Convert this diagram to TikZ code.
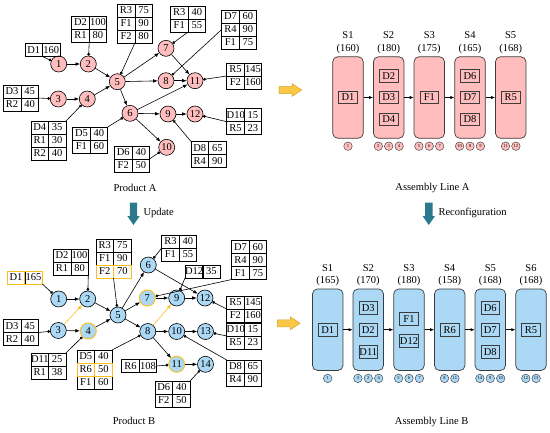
\documentclass[tikz,border=0pt]{standalone}
\usepackage{fontspec}
\setmainfont{Liberation Serif}
\usetikzlibrary{arrows.meta,fit,calc}
\definecolor{pinkF}{RGB}{255,189,189}
\definecolor{blueF}{RGB}{170,216,245}
\definecolor{yel}{RGB}{250,190,30}
\definecolor{yelF}{RGB}{250,200,70}
\definecolor{yelD}{RGB}{215,160,40}
\definecolor{tealA}{RGB}{42,121,141}
\definecolor{edgeG}{RGB}{60,60,60}
\newcommand{\fs}{\fontsize{10.5}{12}\selectfont}
\newcommand{\mytab}[5]{%
  \foreach \a/\b [count=\i] in {#5} {%
    \node[cell] (#1-\i-1) at ({#2},{#3+(\i-1)*13}) {\a};
    \node[cell] (#1-\i-2) at ({#2+17.5},{#3+(\i-1)*13}) {\b};
  }%
  \node[fitbox, fit=(#1-1-1)(#1-#4-2)] (#1) {};%
}
\newcommand{\hlrow}[2]{\draw[yel,line width=0.9pt] (#1-#2-1.north west) rectangle (#1-#2-2.south east) (#1-#2-1.north east) -- (#1-#2-1.south east);}
\newcommand{\station}[8]{%
  \node[st, fill=#2] (#1) at (#3,#4) {};
  \node[stlab] (#1-s) at ($(#1.north)+(0,-21)$) {#5};
  \node[stlab] (#1-v) at ($(#1.north)+(0,-7.5)$) {(#6)};
  \foreach \c [count=\k] in {#8} {%
    \node[sc, fill=#2] (#1-c\k) at ($(#1.south)+({(\k-(#7+1)/2)*10.4},7.6)$) {\c};
  }%
}
\begin{document}
\begin{tikzpicture}[x=1pt,y=-1pt,font=\fs,
  cell/.style={draw,line width=0.6pt,anchor=north west,minimum width=17.5pt,minimum height=13pt,inner sep=0pt,outer sep=0pt},
  fitbox/.style={inner sep=0pt,outer sep=0pt},
  cA/.style={circle,draw,line width=0.6pt,fill=pinkF,minimum size=16pt,inner sep=0pt},
  cB/.style={circle,draw,line width=0.6pt,fill=blueF,minimum size=16pt,inner sep=0pt},
  cY/.style={cB,draw=yel,line width=0.9pt},
  arr/.style={-{Latex[length=4.5pt,width=3.6pt]},line width=0.6pt},
  arrY/.style={arr,color=yel},
  dotc/.style={-{Circle[length=2.8pt]},line width=0.6pt},
  st/.style={rectangle,rounded corners=5pt,draw=edgeG,line width=0.7pt,minimum width=30.5pt,minimum height=81.5pt,inner sep=0pt},
  ibox/.style={rectangle,draw=edgeG,line width=0.7pt,minimum width=18.5pt,minimum height=12.5pt,inner sep=0pt},
  sc/.style={circle,draw=edgeG,line width=0.45pt,minimum size=8.5pt,inner sep=0pt,font=\fontsize{4.5}{5}\selectfont},
  stlab/.style={inner sep=0pt},
  ttl/.style={inner sep=0pt},
  sarr/.style={-{Latex[length=4pt,width=3.2pt]},line width=0.6pt}
]
\useasboundingbox (0,0) rectangle (550,432);

% ---------------- Product A ----------------
\node[cA] (a1) at (58.7,64) {1};
\node[cA] (a2) at (88.3,64) {2};
\node[cA] (a3) at (58.3,99) {3};
\node[cA] (a4) at (87.3,99) {4};
\node[cA] (a5) at (117.3,81.7) {5};
\node[cA] (a6) at (130,113.3) {6};
\node[cA] (a7) at (166,48.3) {7};
\node[cA] (a8) at (166,80.7) {8};
\node[cA] (a11) at (195,80.7) {11};
\node[cA] (a9) at (168,114) {9};
\node[cA] (a12) at (195,114) {12};
\node[cA] (a10) at (166.7,147.3) {10};

\mytab{tD1a}{25}{43.5}{1}{D1/160}
\mytab{tD2a}{71.7}{16}{2}{D2/100,R1/80}
\mytab{tR3a}{117.3}{4}{3}{R3/75,F1/90,F2/80}
\mytab{tR3b}{170.5}{6}{2}{R3/40,F1/55}
\mytab{tD7a}{221.7}{10}{3}{D7/60,R4/90,F1/75}
\mytab{tR5a}{226.7}{63}{2}{R5/145,F2/160}
\mytab{tD10a}{226.7}{108.7}{2}{D10/15,R5/23}
\mytab{tD8a}{191}{141.5}{2}{D8/65,R4/90}
\mytab{tD6a}{114.5}{146}{2}{D6/40,F2/50}
\mytab{tD5a}{72.7}{127}{2}{D5/40,F1/60}
\mytab{tD4a}{31}{121}{3}{D4/35,R1/30,R2/40}
\mytab{tD3a}{3.3}{85}{2}{D3/45,R2/40}

\draw[arr] (a1) -- (a2);
\draw[arr] (a2) -- (a5);
\draw[arr] (a3) -- (a4);
\draw[arr] (a4) -- (a5);
\draw[arr] (a5) -- (a7);
\draw[arr] (a5) -- (a8);
\draw[arr] (a5) -- (a6);
\draw[arr] (a7) -- (a11);
\draw[arr] (a8) -- (a11);
\draw[arr] (a6) -- (a11);
\draw[arr] (a6) -- (a9);
\draw[arr] (a6) -- (a10);
\draw[arr] (a9) -- (a12);

\draw[dotc] (tD1a.south) -- (a1);
\draw[dotc] (tD2a.south) -- (a2);
\draw[dotc] (tR3a.south) -- (a5);
\draw[dotc] (tR3b.south) -- (a7);
\draw[dotc] (tD7a-2-1.west) -- (a8);
\draw[dotc] (tR5a.west) -- (a11);
\draw[dotc] (tD10a.west) -- (a12);
\draw[dotc] (tD8a.north west) -- (a9);
\draw[dotc] (tD6a.east) -- (a10);
\draw[dotc] (tD5a.north east) -- (a6);
\draw[dotc] (tD4a.north east) -- (a4);
\draw[dotc] (tD3a.east) -- (a3);

% ---------------- Product B ----------------
\node[cB] (b1) at (58.7,299) {1};
\node[cB] (b2) at (87.7,299) {2};
\node[cB] (b3) at (58.3,330.5) {3};
\node[cY] (b4) at (88.3,331) {4};
\node[cB] (b5) at (118,315) {5};
\node[cB] (b6) at (148.3,265) {6};
\node[cY] (b7) at (147.3,298) {7};
\node[cB] (b9) at (176.7,298) {9};
\node[cB] (b12) at (205,298) {12};
\node[cB] (b8) at (147.8,331.5) {8};
\node[cB] (b10) at (176.7,331.5) {10};
\node[cB] (b13) at (205.5,331.5) {13};
\node[cY] (b11) at (176.7,364.3) {11};
\node[cB] (b14) at (205.5,364.3) {14};

\mytab{tD1b}{7.3}{271}{1}{D1/165}
\hlrow{tD1b}{1}
\mytab{tD2b}{53.3}{249}{2}{D2/100,R1/80}
\mytab{tR3c}{96}{239}{3}{R3/75,F1/90,F2/70}
\hlrow{tR3c}{3}
\mytab{tR3d}{161.7}{235}{2}{R3/40,F1/55}
\mytab{tD7b}{231.7}{240.5}{3}{D7/60,R4/90,F1/75}
\mytab{tD12}{185}{265}{1}{D12/35}
\mytab{tR5b}{226.7}{296}{2}{R5/145,F2/160}
\mytab{tD10b}{226.7}{323}{2}{D10/15,R5/23}
\mytab{tD8b}{226.7}{360}{2}{D8/65,R4/90}
\mytab{tD6b}{155}{381}{2}{D6/40,F2/50}
\mytab{tR6}{121.7}{359.5}{1}{R6/108}
\mytab{tD5b}{77}{350}{3}{D5/40,R6/50,F1/60}
\hlrow{tD5b}{2}
\mytab{tD11}{31}{353}{2}{D11/25,R1/38}
\mytab{tD3b}{3.3}{319.5}{2}{D3/45,R2/40}

\draw[arr] (b1) -- (b2);
\draw[arrY] (b3) -- (b2);
\draw[arr] (b3) -- (b4);
\draw[arr] (b2) -- (b5);
\draw[arr] (b4) -- (b5);
\draw[arr] (b5) -- (b6);
\draw[arr] (b5) -- (b7);
\draw[arr] (b5) -- (b8);
\draw[arr] (b6) -- (b12);
\draw[arr] (b7) -- (b9);
\draw[arr] (b9) -- (b12);
\draw[arrY] (b8) -- (b9);
\draw[arr] (b8) -- (b10);
\draw[arr] (b10) -- (b13);
\draw[arr] (b8) -- (b11);
\draw[arr] (b11) -- (b14);

\draw[dotc] (tD1b.south east) -- (b1);
\draw[dotc] (tD2b.south east) -- (b2);
\draw[dotc] (tR3c.south) -- (b5);
\draw[dotc] (tR3d.west) -- (b6);
\draw[dotc] (tD7b.south west) -- (b7);
\draw[dotc] (tD12.south west) -- (b9);
\draw[dotc] (tR5b.west) -- (b12);
\draw[dotc] (tD10b.west) -- (b13);
\draw[dotc] (tD8b.north west) -- (b10);
\draw[dotc] (tD6b.north east) -- (b14);
\draw[dotc] (tR6.east) -- (b11);
\draw[dotc] (tD5b.north east) -- (b8);
\draw[dotc] (tD11.north east) -- (b4);
\draw[dotc] (tD3b.east) -- (b3);

% ---------------- Assembly line A ----------------
\station{sA1}{pinkF}{348.0}{97.5}{S1}{160}{1}{1}
\station{sA2}{pinkF}{388.7}{97.5}{S2}{180}{3}{2,3,4}
\station{sA3}{pinkF}{429.3}{97.5}{S3}{175}{3}{5,6,7}
\station{sA4}{pinkF}{470.0}{97.5}{S4}{165}{3}{10,8,9}
\station{sA5}{pinkF}{510.7}{97.5}{S5}{168}{2}{11,12}
\node[ibox] (iA1) at (sA1) {D1};
\node[ibox] (iA2a) at ($(sA2)+(0,-21.7)$) {D2};
\node[ibox] (iA2b) at (sA2) {D3};
\node[ibox] (iA2c) at ($(sA2)+(0,21.7)$) {D4};
\node[ibox] (iA3) at (sA3) {F1};
\node[ibox] (iA4a) at ($(sA4)+(0,-21.7)$) {D6};
\node[ibox] (iA4b) at (sA4) {D7};
\node[ibox] (iA4c) at ($(sA4)+(0,21.7)$) {D8};
\node[ibox] (iA5) at (sA5) {R5};
\draw[sarr] (sA1) -- (sA2);
\draw[sarr] (sA2) -- (sA3);
\draw[sarr] (sA3) -- (sA4);
\draw[sarr] (sA4) -- (sA5);

% ---------------- Assembly line B ----------------
\station{sB1}{blueF}{327.7}{329.7}{S1}{165}{1}{1}
\station{sB2}{blueF}{368.3}{329.7}{S2}{170}{3}{3,2,4}
\station{sB3}{blueF}{409.0}{329.7}{S3}{180}{3}{5,6,7}
\station{sB4}{blueF}{449.7}{329.7}{S4}{158}{2}{8,11}
\station{sB5}{blueF}{490.3}{329.7}{S5}{168}{3}{14,9,10}
\station{sB6}{blueF}{531.0}{329.7}{S6}{168}{2}{12,13}
\node[ibox] (iB1) at (sB1) {D1};
\node[ibox] (iB2a) at ($(sB2)+(0,-22)$) {D3};
\node[ibox] (iB2b) at (sB2) {D2};
\node[ibox] (iB2c) at ($(sB2)+(0,22)$) {D11};
\node[ibox] (iB3a) at ($(sB3)+(0,-10.9)$) {F1};
\node[ibox] (iB3b) at ($(sB3)+(0,10.9)$) {D12};
\node[ibox] (iB4) at (sB4) {R6};
\node[ibox] (iB5a) at ($(sB5)+(0,-22)$) {D6};
\node[ibox] (iB5b) at (sB5) {D7};
\node[ibox] (iB5c) at ($(sB5)+(0,22)$) {D8};
\node[ibox] (iB6) at (sB6) {R5};
\draw[sarr] (sB1) -- (sB2);
\draw[sarr] (sB2) -- (sB3);
\draw[sarr] (sB3) -- (sB4);
\draw[sarr] (sB4) -- (sB5);
\draw[sarr] (sB5) -- (sB6);

% ---------------- titles and block arrows ----------------
\node[ttl] (tA) at (135,188.3) {Product A};
\node[ttl] (tLA) at (432.5,188.3) {Assembly Line A};
\node[ttl] (tB) at (134,420.5) {Product B};
\node[ttl] (tLB) at (431.7,421.5) {Assembly Line B};
\node[ttl,anchor=west] (upd) at (143.3,213.3) {Update};
\node[ttl,anchor=west] (rec) at (438.3,213.3) {Reconfiguration};

\fill[tealA] (129.8,202.7) -- (137.2,202.7) -- (137.2,216) -- (139.7,216) -- (133.5,225) -- (127.3,216) -- (129.8,216) -- cycle;
\fill[tealA] (425.1,202.7) -- (432.5,202.7) -- (432.5,216) -- (435,216) -- (428.8,225) -- (422.6,216) -- (425.1,216) -- cycle;
\filldraw[fill=yelF,draw=yelD,line width=0.5pt] (279,86.5) -- (292,86.5) -- (292,83.5) -- (301.7,90) -- (292,96.5) -- (292,93.5) -- (279,93.5) -- cycle;
\filldraw[fill=yelF,draw=yelD,line width=0.5pt] (277.3,319.8) -- (290.3,319.8) -- (290.3,316.8) -- (300,323.3) -- (290.3,329.8) -- (290.3,326.8) -- (277.3,326.8) -- cycle;
\end{tikzpicture}
\end{document}
